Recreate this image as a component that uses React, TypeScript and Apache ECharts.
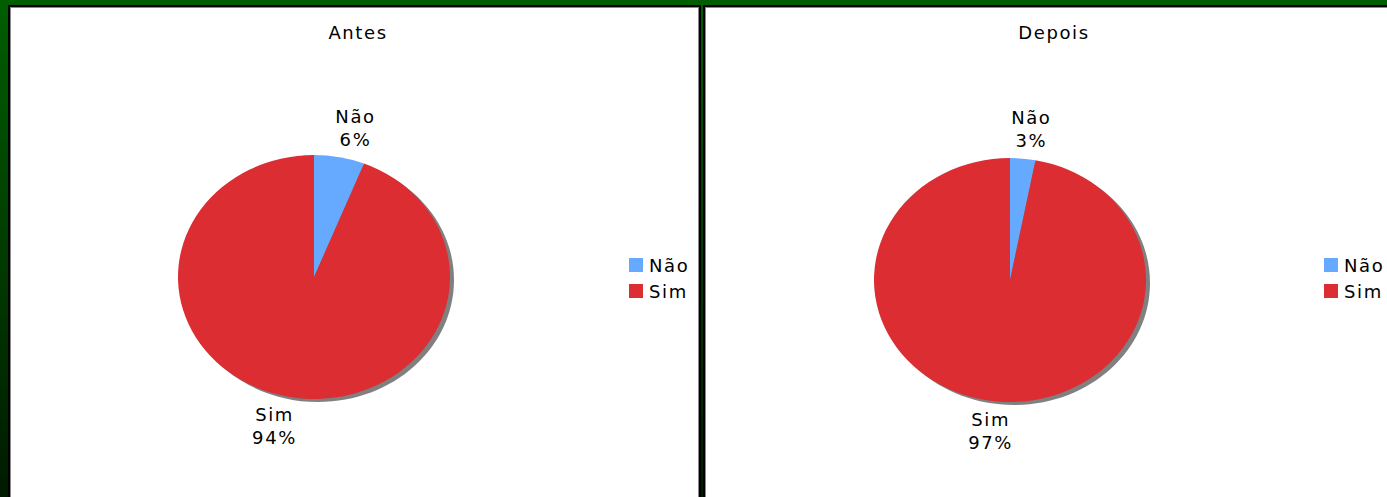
import React, { useEffect, useRef } from "react";
import * as echarts from "echarts";

const categories = ["Não", "Sim"];
const chartTitles = ["Antes", "Depois"];
const antesValues = [6, 94];
const depoisValues = [3, 97];
const colors = ["#66AAFF", "#DC2D33"];

const valueSets = [antesValues, depoisValues];
const centers = [
  [314, 277],
  [1010, 280],
];
const RX = 136;
const RY = 122;
const FONT = "DejaVu Sans";
const FS = 18;

export default function App() {
  const ref = useRef<HTMLDivElement>(null);

  useEffect(() => {
    if (!ref.current) return;
    const chart = echarts.init(ref.current, undefined, { renderer: "svg" });

    const catSeries = categories.map((cat, i) => {
      const data = valueSets.map((vals, c) => {
        const total = vals.reduce((a, b) => a + b, 0);
        const before = vals.slice(0, i).reduce((a, b) => a + b, 0);
        return [c, vals[i], before, total];
      });
      return {
        type: "custom",
        name: cat,
        coordinateSystem: "none",
        z: 3,
        itemStyle: { color: colors[i] },
        data,
        renderItem: (params: any, api: any) => {
          const c = api.value(0);
          const v = api.value(1);
          const before = api.value(2);
          const total = api.value(3);
          const [cx, cy] = centers[c];
          const f0 = before / total;
          const f1 = (before + v) / total;
          const start = -Math.PI / 2 + 2 * Math.PI * f0;
          const end = -Math.PI / 2 + 2 * Math.PI * f1;
          const mid = 2 * Math.PI * ((f0 + f1) / 2);
          const lx = cx + Math.sin(mid) * (RX + 80) + 1;
          const ly = cy - Math.cos(mid) * (RY + 30);
          const pct = Math.round((v / total) * 100);
          return {
            type: "group",
            children: [
              {
                type: "sector",
                x: cx,
                y: cy,
                scaleY: RY / RX,
                shape: { cx: 0, cy: 0, r0: 0, r: RX, startAngle: start, endAngle: end, clockwise: true },
                style: { fill: colors[i] },
              },
              {
                type: "text",
                x: lx,
                y: ly,
                style: {
                  text: `${cat}\n${pct}%`,
                  fill: "#000",
                  fontSize: FS,
                  fontFamily: FONT,
                  align: "center",
                  verticalAlign: "middle",
                  lineHeight: 23,
                },
              },
            ],
          };
        },
      };
    });

    const shadowSeries = {
      type: "custom",
      name: "shadow",
      coordinateSystem: "none",
      silent: true,
      z: 2,
      data: valueSets.map((_, c) => [c]),
      renderItem: (params: any, api: any) => {
        const c = api.value(0);
        const [cx, cy] = centers[c];
        return {
          type: "ellipse",
          shape: { cx: cx + 4, cy: cy + 3, rx: RX, ry: RY },
          style: { fill: "#808080" },
        };
      },
    };

    const panel = (x: number, w: number) => [
      { type: "rect", shape: { x, y: 5, width: w, height: 520 }, style: { fill: "#000" } },
      { type: "rect", shape: { x: x + 2, y: 7, width: w - 4, height: 520 }, style: { fill: "#8a8a8a" } },
      { type: "rect", shape: { x: x + 3, y: 8, width: w - 6, height: 520 }, style: { fill: "#fff" } },
    ];

    const legendBase = {
      orient: "vertical",
      icon: "rect",
      padding: 0,
      itemWidth: 14,
      itemHeight: 14,
      itemGap: 8,
      data: categories,
      textStyle: { fontSize: FS, fontFamily: FONT, color: "#000", lineHeight: 18, padding: [0, 0, 0, 1] },
    };

    chart.setOption({
      animation: false,
      graphic: [
        {
          type: "rect",
          z: -10,
          shape: { x: 0, y: 0, width: 1387, height: 497 },
          style: {
            fill: new echarts.graphic.LinearGradient(0, 0, 0, 1, [
              { offset: 0, color: "#005e00" },
              { offset: 1, color: "#001a00" },
            ]),
          },
        },
        ...panel(8, 693),
        ...panel(703, 700),
        {
          type: "text",
          x: 358,
          y: 32,
          style: { text: chartTitles[0], fontSize: FS, fontFamily: FONT, fill: "#000", align: "center", verticalAlign: "middle" },
        },
        {
          type: "text",
          x: 1054,
          y: 32,
          style: { text: chartTitles[1], fontSize: FS, fontFamily: FONT, fill: "#000", align: "center", verticalAlign: "middle" },
        },
      ],
      legend: [
        { ...legendBase, left: 629, top: 256 },
        { ...legendBase, left: 1324, top: 256 },
      ],
      series: [shadowSeries, ...catSeries],
    });

    return () => chart.dispose();
  }, []);

  return (
    <>
      <style>{`.pie-root svg text { letter-spacing: 1.6px; }`}</style>
      <div
        ref={ref}
        className="pie-root"
        style={{ position: "absolute", left: 0, top: 0, width: 1387, height: 497 }}
      />
    </>
  );
}
